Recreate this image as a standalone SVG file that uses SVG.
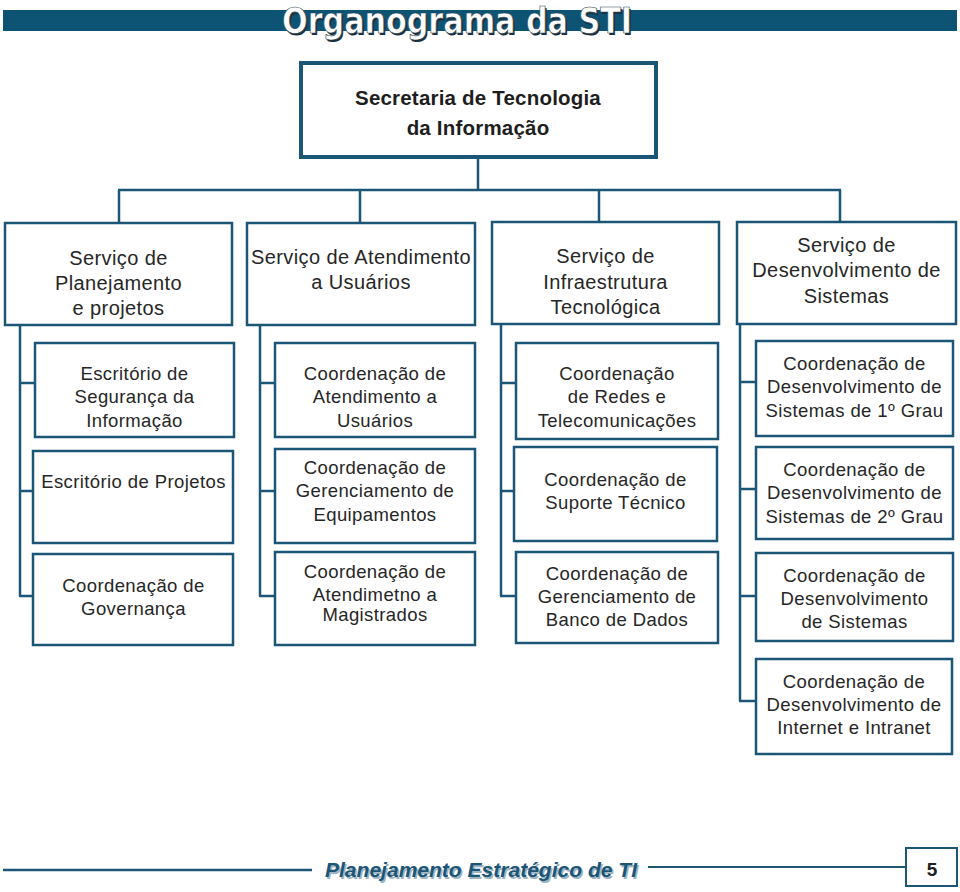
<svg xmlns="http://www.w3.org/2000/svg" width="960" height="892" viewBox="0 0 960 892">
<style>
.bg{fill:#ffffff}
.box{fill:#ffffff;stroke:#1b5677;stroke-width:2.5}
.top{fill:#ffffff;stroke:#1b5677;stroke-width:4}
.ln{fill:none;stroke:#1b5677;stroke-width:2.5}
.t2{font-family:"Liberation Sans",Arial,sans-serif;font-size:20px;letter-spacing:0.4px;fill:#262626;text-anchor:middle}
.t3{font-family:"Liberation Sans",Arial,sans-serif;font-size:18.5px;letter-spacing:0.4px;fill:#262626;text-anchor:middle}
.tb{font-family:"Liberation Sans",Arial,sans-serif;font-size:20.5px;font-weight:bold;letter-spacing:0.2px;fill:#1e1e1e;text-anchor:middle}
</style>
<rect class="bg" x="0" y="0" width="960" height="892"/>

<g id="header">
<rect x="3" y="10" width="954" height="21" fill="#0c5374"/>
<text x="283.5" y="34.5" font-family="'DejaVu Sans Condensed','Liberation Sans',sans-serif" font-size="35" font-weight="bold" fill="#1a2f3e" textLength="350" lengthAdjust="spacingAndGlyphs">Organograma da STI</text>
<text x="282" y="33" font-family="'DejaVu Sans Condensed','Liberation Sans',sans-serif" font-size="35" font-weight="bold" fill="#ffffff" stroke="#2a3f4e" stroke-width="0.6" textLength="350" lengthAdjust="spacingAndGlyphs">Organograma da STI</text>
</g>

<g id="connectors">
<path class="ln" d="M478 157V190M118 190H841M119 190V223M360 190V223M599 190V222M840 190V222"/>
<path class="ln" d="M20 325V596M19 383H35M19 491H33M19 596H33"/>
<path class="ln" d="M260 325V596M259 383H275M259 491H275M259 596H275"/>
<path class="ln" d="M501 324V596M500 383H516M500 491H514M500 596H516"/>
<path class="ln" d="M740 324V701M739 382H756M739 489H756M739 596H756M739 701H756"/>
</g>

<g id="n-secretaria">
<rect class="top" x="301" y="63" width="355" height="94"/>
<text class="tb" x="478" y="105">Secretaria de Tecnologia</text>
<text class="tb" x="478" y="135">da Informação</text>
</g>

<g id="n-planejamento">
<rect class="box" x="5" y="223" width="227" height="102"/>
<text class="t2" x="118.5" y="265">Serviço de</text>
<text class="t2" x="118.5" y="290">Planejamento</text>
<text class="t2" x="118.5" y="315">e projetos</text>
</g>
<g id="n-atendimento">
<rect class="box" x="247" y="223" width="228" height="102"/>
<text class="t2" x="361" y="264">Serviço de Atendimento</text>
<text class="t2" x="361" y="289">a Usuários</text>
</g>
<g id="n-infraestrutura">
<rect class="box" x="492" y="222" width="227" height="102"/>
<text class="t2" x="605.5" y="263">Serviço de</text>
<text class="t2" x="605.5" y="289">Infraestrutura</text>
<text class="t2" x="605.5" y="314">Tecnológica</text>
</g>
<g id="n-desenvolvimento">
<rect class="box" x="737" y="222" width="219" height="102"/>
<text class="t2" x="846.5" y="252">Serviço de</text>
<text class="t2" x="846.5" y="277">Desenvolvimento de</text>
<text class="t2" x="846.5" y="303">Sistemas</text>
</g>

<g id="n-seguranca">
<rect class="box" x="35" y="343" width="199" height="94"/>
<text class="t3" x="134.5" y="380">Escritório de</text>
<text class="t3" x="134.5" y="403">Segurança da</text>
<text class="t3" x="134.5" y="427">Informação</text>
</g>
<g id="n-projetos">
<rect class="box" x="33" y="451" width="200" height="92"/>
<text class="t3" x="133.5" y="488">Escritório de Projetos</text>
</g>
<g id="n-governanca">
<rect class="box" x="33" y="554" width="200" height="91"/>
<text class="t3" x="133.5" y="592">Coordenação de</text>
<text class="t3" x="133.5" y="615">Governança</text>
</g>

<g id="n-coord-atend-usuarios">
<rect class="box" x="275" y="343" width="200" height="94"/>
<text class="t3" x="375" y="380">Coordenação de</text>
<text class="t3" x="375" y="403">Atendimento a</text>
<text class="t3" x="375" y="427">Usuários</text>
</g>
<g id="n-equipamentos">
<rect class="box" x="275" y="449" width="200" height="94"/>
<text class="t3" x="375" y="474">Coordenação de</text>
<text class="t3" x="375" y="497">Gerenciamento de</text>
<text class="t3" x="375" y="521">Equipamentos</text>
</g>
<g id="n-magistrados">
<rect class="box" x="275" y="552" width="200" height="93"/>
<text class="t3" x="375" y="578">Coordenação de</text>
<text class="t3" x="375" y="601">Atendimetno a</text>
<text class="t3" x="375" y="621">Magistrados</text>
</g>

<g id="n-redes">
<rect class="box" x="516" y="343" width="202" height="96"/>
<text class="t3" x="617" y="380">Coordenação</text>
<text class="t3" x="617" y="403">de Redes e</text>
<text class="t3" x="617" y="427">Telecomunicações</text>
</g>
<g id="n-suporte">
<rect class="box" x="514" y="447" width="203" height="94"/>
<text class="t3" x="615.5" y="486">Coordenação de</text>
<text class="t3" x="615.5" y="509">Suporte Técnico</text>
</g>
<g id="n-banco">
<rect class="box" x="516" y="552" width="202" height="91"/>
<text class="t3" x="617" y="580">Coordenação de</text>
<text class="t3" x="617" y="603">Gerenciamento de</text>
<text class="t3" x="617" y="626">Banco de Dados</text>
</g>

<g id="n-dev-1grau">
<rect class="box" x="756" y="341" width="197" height="95"/>
<text class="t3" x="854.5" y="370">Coordenação de</text>
<text class="t3" x="854.5" y="393">Desenvolvimento de</text>
<text class="t3" x="854.5" y="417">Sistemas de 1º Grau</text>
</g>
<g id="n-dev-2grau">
<rect class="box" x="756" y="447" width="197" height="92"/>
<text class="t3" x="854.5" y="476">Coordenação de</text>
<text class="t3" x="854.5" y="499">Desenvolvimento de</text>
<text class="t3" x="854.5" y="523">Sistemas de 2º Grau</text>
</g>
<g id="n-dev-sistemas">
<rect class="box" x="756" y="553" width="197" height="88"/>
<text class="t3" x="854.5" y="582">Coordenação de</text>
<text class="t3" x="854.5" y="605">Desenvolvimento</text>
<text class="t3" x="854.5" y="628">de Sistemas</text>
</g>
<g id="n-dev-internet">
<rect class="box" x="756" y="659" width="196" height="95"/>
<text class="t3" x="854" y="688">Coordenação de</text>
<text class="t3" x="854" y="711">Desenvolvimento de</text>
<text class="t3" x="854" y="734">Internet e Intranet</text>
</g>

<g id="footer">
<line x1="3" y1="870" x2="312" y2="870" stroke="#1b5677" stroke-width="2.5"/>
<line x1="648" y1="867" x2="906" y2="867" stroke="#1b5677" stroke-width="2"/>
<text x="326.5" y="878.5" font-family="'Liberation Sans',Arial,sans-serif" font-size="21" font-weight="bold" font-style="italic" fill="#9fb4c2" textLength="312" lengthAdjust="spacingAndGlyphs">Planejamento Estratégico de TI</text>
<text x="325" y="877" font-family="'Liberation Sans',Arial,sans-serif" font-size="21" font-weight="bold" font-style="italic" fill="#1b5677" textLength="312" lengthAdjust="spacingAndGlyphs">Planejamento Estratégico de TI</text>
<rect x="906" y="848" width="51" height="38" fill="#ffffff" stroke="#1b5677" stroke-width="2"/>
<text x="932" y="876" font-family="'Liberation Sans',Arial,sans-serif" font-size="19" font-weight="bold" fill="#222222" text-anchor="middle">5</text>
</g>
</svg>
